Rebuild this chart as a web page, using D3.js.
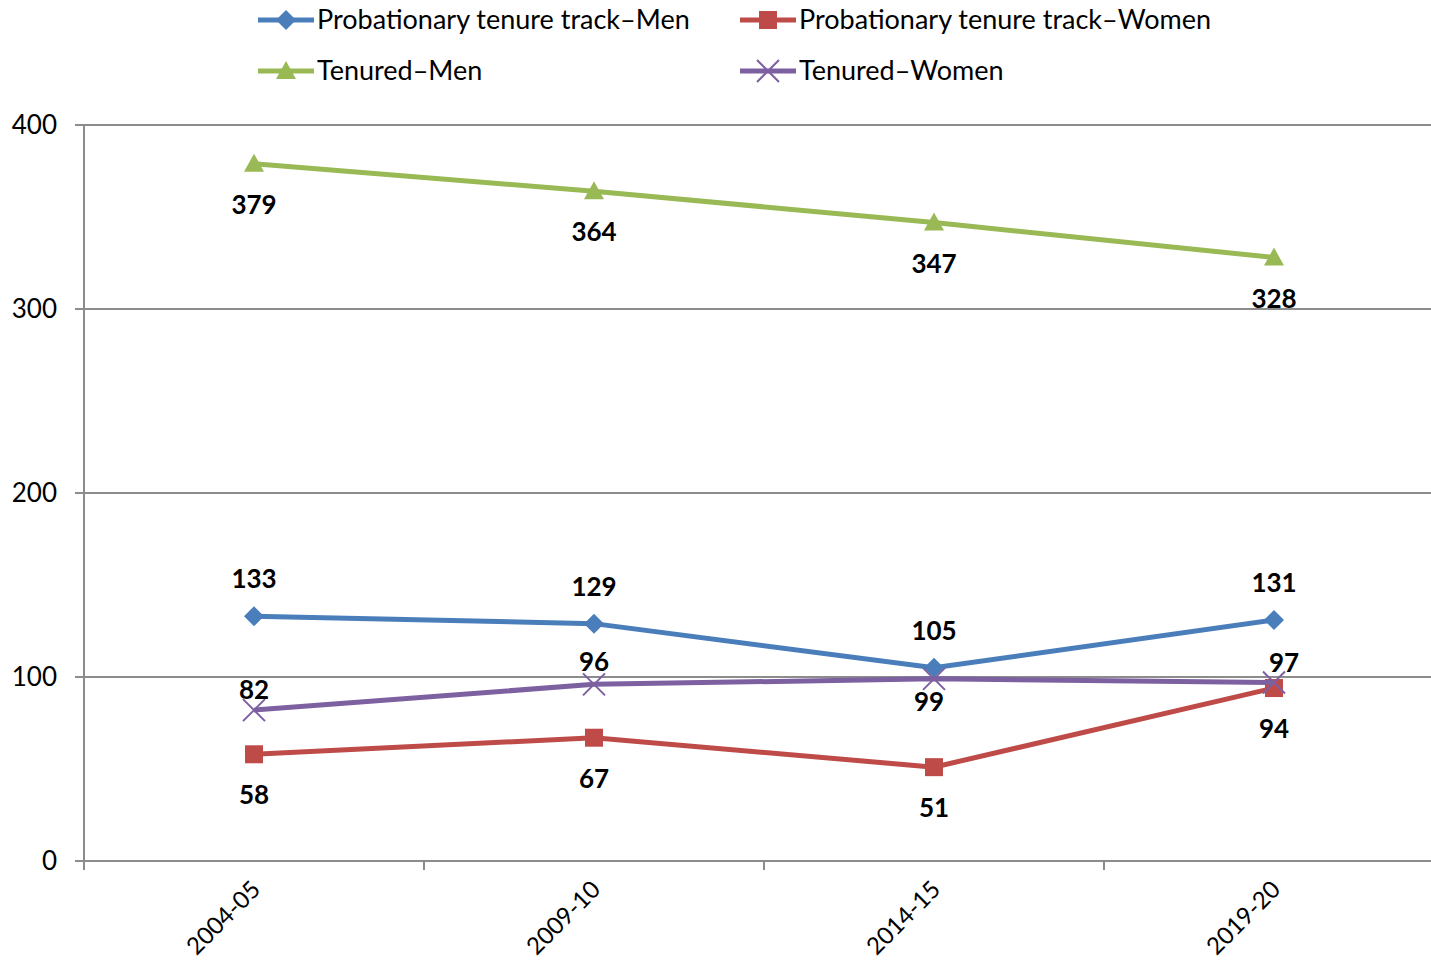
<!DOCTYPE html>
<html>
<head>
<meta charset="utf-8">
<script src="https://cdn.jsdelivr.net/npm/d3@7.9.0/dist/d3.min.js"></script>
<style>
  body { margin: 0; background: #fff; }
  svg { display: block; font-family: Lato, "Open Sans", sans-serif; }
</style>
</head>
<body>
<svg id="chart" width="1431" height="979"></svg>
<script>
const years = ["2004-05", "2009-10", "2014-15", "2019-20"];
const probMen = [133, 129, 105, 131];
const probWomen = [58, 67, 51, 94];
const tenMen = [379, 364, 347, 328];
const tenWomen = [82, 96, 99, 97];
const yTicks = [0, 100, 200, 300, 400];

// label offsets (px) per point
const series = [
  { name: "Probationary tenure track\u2013Men", values: probMen, color: "#4a7ebb", shape: "diamond", dy: [-37, -37, -37, -37], dx: [0, 0, 0, 0] },
  { name: "Probationary tenure track\u2013Women", values: probWomen, color: "#be4b48", shape: "square", dy: [41, 41, 41, 41], dx: [0, 0, 0, 0] },
  { name: "Tenured\u2013Men", values: tenMen, color: "#98b954", shape: "triangle", dy: [41, 41, 41, 41], dx: [0, 0, 0, 0] },
  { name: "Tenured\u2013Women", values: tenWomen, color: "#7d60a0", shape: "x", dy: [-20, -22, 23, -20], dx: [0, 0, -5, 10] }
];

const svg = d3.select("#chart");
const mLeft = 84, mRight = 1444, mTop = 125, mBottom = 861;

const x = d3.scaleBand().domain(years).range([mLeft, mRight]);
const y = d3.scaleLinear().domain([0, 400]).range([mBottom, mTop]);
const cx = d => x(d) + x.bandwidth() / 2;

// gridlines
svg.append("g").selectAll("line").data(yTicks).join("line")
  .attr("x1", mLeft - 9).attr("x2", 1431)
  .attr("y1", d => y(d)).attr("y2", d => y(d))
  .attr("stroke", "#8c8c8c").attr("stroke-width", 2);

// y axis line
svg.append("line").attr("x1", mLeft).attr("x2", mLeft)
  .attr("y1", mTop).attr("y2", mBottom + 9)
  .attr("stroke", "#8c8c8c").attr("stroke-width", 2);

// x ticks
const xTickPos = d3.range(0, years.length + 1).map(i => mLeft + i * x.bandwidth());
svg.append("g").selectAll("line").data(xTickPos).join("line")
  .attr("x1", d => d).attr("x2", d => d)
  .attr("y1", mBottom).attr("y2", mBottom + 9)
  .attr("stroke", "#8c8c8c").attr("stroke-width", 2);

// y labels
svg.append("g").selectAll("text").data(yTicks).join("text")
  .attr("x", 57).attr("y", d => y(d)).attr("dy", "0.35em")
  .attr("text-anchor", "end").attr("font-size", 26).attr("fill", "#000")
  .text(d => d);

// x labels
svg.append("g").selectAll("text").data(years).join("text")
  .attr("text-anchor", "end").attr("font-size", 24).attr("fill", "#000")
  .attr("transform", d => `translate(${cx(d) + 2},${mBottom + 24}) rotate(-45)`)
  .attr("dy", "0.35em")
  .text(d => d);

const shapes = {
  diamond: "M0,-10L10,0L0,10L-10,0Z",
  square: "M-9,-9H9V9H-9Z",
  triangle: "M0,-10L10,8H-10Z",
  x: "M-11,-11L11,11M-11,11L11,-11"
};

function marker(g, s, px, py) {
  const p = g.append("path").attr("d", shapes[s.shape])
    .attr("transform", `translate(${px},${py})`);
  if (s.shape === "x") {
    p.attr("stroke", s.color).attr("stroke-width", 2).attr("fill", "none");
  } else {
    p.attr("fill", s.color);
  }
}

const line = d3.line().x((d, i) => cx(years[i])).y(d => y(d));

series.forEach(s => {
  const g = svg.append("g");
  g.append("path").attr("d", line(s.values))
    .attr("fill", "none").attr("stroke", s.color).attr("stroke-width", 5);
  s.values.forEach((v, i) => marker(g, s, cx(years[i]), y(v)));
});

series.forEach(s => {
  svg.append("g").selectAll("text").data(s.values).join("text")
    .attr("x", (d, i) => cx(years[i]) + s.dx[i])
    .attr("y", (d, i) => y(d) + s.dy[i])
    .attr("dy", "0.35em").attr("text-anchor", "middle")
    .attr("font-size", 26).attr("font-weight", "bold").attr("fill", "#000")
    .text(d => d);
});

// legend
const legPos = [[258, 20], [740, 20], [258, 71], [740, 71]];
series.forEach((s, i) => {
  const [lx, ly] = legPos[i];
  const g = svg.append("g");
  g.append("line").attr("x1", lx).attr("x2", lx + 56).attr("y1", ly).attr("y2", ly)
    .attr("stroke", s.color).attr("stroke-width", 5);
  marker(g, s, lx + 28, ly);
  g.append("text").attr("x", lx + 59).attr("y", ly).attr("dy", "0.35em")
    .attr("font-size", 27).attr("fill", "#000").text(s.name);
});
</script>
</body>
</html>
